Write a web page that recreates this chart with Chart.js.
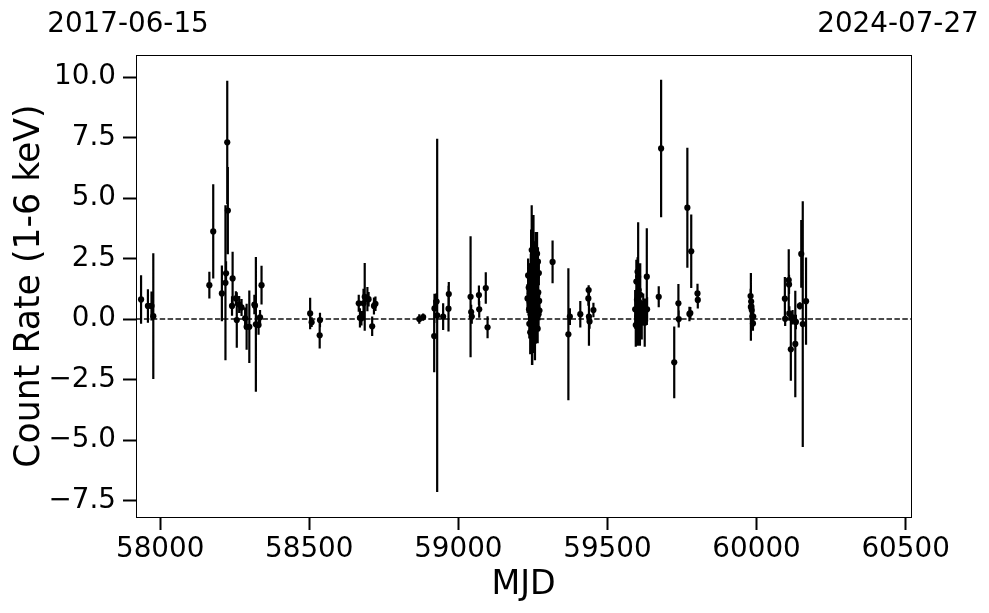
<!DOCTYPE html>
<html>
<head>
<meta charset="utf-8">
<script src="https://cdn.jsdelivr.net/npm/chart.js@4.4.1/dist/chart.umd.min.js"></script>
<style>
  html, body { margin: 0; padding: 0; background: #ffffff; }
  #wrap { width: 989px; height: 613px; position: relative; }
</style>
</head>
<body>
<div id="wrap"><canvas id="c" width="989" height="613"></canvas></div>
<script>
// ---- Data ----
const mjd = [
  57936, 57959, 57971, 57977,
  58165, 58178, 58207, 58219, 58221, 58225, 58227, 58241, 58243, 58254, 58257, 58265, 58273, 58285, 58290, 58299, 58316, 58318, 58321, 58330, 58335, 58340,
  58503, 58508, 58536, 58535,
  58666, 58670, 58675, 58682, 58686, 58695, 58699, 58711, 58717, 58722,
  58869, 58882,
  58920, 58919, 58927, 58929, 58949, 58968, 58967,
  59041, 59045, 59043, 59069, 59070, 59092, 59098,
  59232, 59234, 59236, 59237, 59238, 59239, 59240, 59241, 59242, 59243, 59244, 59245, 59246, 59247, 59248, 59249, 59250, 59251, 59252, 59253,
  59254, 59255, 59256, 59257, 59258, 59259, 59260, 59261, 59262, 59263, 59264, 59265, 59266, 59267, 59268, 59269, 59270, 59271, 59272,
  59316, 59369, 59374, 59409, 59437, 59436, 59438, 59440, 59453,
  59593, 59595, 59597, 59599, 59600, 59601, 59602, 59603, 59604, 59605, 59606, 59607, 59608, 59609, 59610, 59612, 59615, 59620, 59625, 59632, 59633,
  59672, 59680, 59724, 59738, 59739, 59768, 59775, 59778, 59781, 59802, 59803,
  59981, 59980, 59982, 59983, 59984, 59986, 59988, 59989,
  60095, 60096, 60108, 60109, 60110, 60115, 60121, 60130, 60132, 60145, 60150, 60155, 60166
];
const rate = [
  0.81, 0.54, 0.54, 0.12,
  1.40, 3.62, 1.06, 1.50, 1.89, 7.30, 4.48, 0.54, 1.68, 0.85, -0.04, 0.60, 0.48, 0.03, -0.32, -0.32, 0.60, 0.55, -0.22, -0.25, 0.07, 1.40,
  0.23, -0.13, -0.04, -0.67,
  0.65, 0.05, 0.03, 0.65, 0.92, 0.82, 0.82, -0.30, 0.54, 0.63,
  0.00, 0.08,
  0.44, -0.70, 0.72, 0.15, 0.10, 1.03, 0.43,
  0.92, 0.10, 0.29, 0.99, 0.40, 1.28, -0.34,
  0.85, 1.80, 1.30, 0.40, -0.20, 0.70, 1.05, -0.55, 0.20, 1.60, 2.20, 0.50, 2.85, 0.10, -0.70, 1.90, 0.90, 2.40, 3.10, -0.30,
  1.20, 0.60, 2.00, -0.90, 1.50, 0.30, 2.60, 0.00, 1.00, 1.75, 2.70, 0.45, -0.40, 2.37, 1.10, 0.20, 1.90, 0.75, 0.35,
  2.36, -0.63, 0.10, 0.20, 1.20, 0.85, 0.10, -0.10, 0.37,
  0.40, -0.25, 1.55, 0.80, 0.10, 1.95, -0.30, 1.75, 0.37, 1.20, -0.10, 0.60, 0.05, -0.20, 1.00, 0.30, -0.05, 0.45, -0.15, 1.75, 0.40,
  0.92, 7.05, -1.79, 0.65, 0.00, 4.60, 0.21, 0.25, 2.80, 1.06, 0.79,
  0.50, 0.95, 0.72, 0.51, 0.37, 0.10, -0.18, 0.10,
  0.84, 0.01, 1.61, 1.43, 0.23, -1.25, 0.07, -1.03, -0.12, 0.54, 2.69, -0.21, 0.74
];
const rateErr = [
  1.00, 0.69, 0.60, 2.60,
  0.55, 1.95, 1.15, 3.20, 0.50, 2.55, 1.80, 0.40, 1.10, 0.30, 1.15, 0.35, 0.35, 0.45, 0.95, 1.50, 0.40, 0.35, 2.78, 0.40, 0.30, 0.80,
  0.65, 0.20, 0.30, 0.55,
  0.35, 0.40, 0.30, 0.60, 1.40, 0.50, 0.30, 0.40, 0.35, 0.30,
  0.20, 0.15,
  0.60, 1.50, 0.35, 7.30, 0.55, 0.50, 0.95,
  2.50, 0.30, 0.30, 0.40, 0.35, 0.65, 0.45,
  0.60, 0.70, 0.90, 0.50, 0.60, 1.00, 0.80, 0.90, 1.20, 1.10, 1.50, 1.80, 1.85, 2.00, 1.20, 1.60, 1.40, 1.30, 1.20, 1.10,
  1.50, 1.30, 1.10, 0.80, 1.20, 0.90, 1.00, 1.00, 0.90, 0.80, 0.90, 0.70, 0.60, 0.60, 0.70, 0.60, 0.50, 0.40, 0.40,
  0.88, 2.73, 0.35, 0.55, 0.20, 0.30, 1.20, 0.30, 0.30,
  0.80, 0.90, 0.90, 1.50, 0.50, 0.60, 0.80, 2.25, 0.50, 1.00, 0.60, 0.70, 0.90, 0.90, 1.30, 0.50, 0.80, 0.60, 1.00, 2.00, 0.50,
  0.43, 2.84, 1.48, 0.80, 0.35, 2.48, 0.30, 0.25, 1.52, 0.40, 0.35,
  1.40, 0.30, 0.30, 0.30, 0.30, 0.30, 0.30, 0.25,
  0.90, 0.30, 1.27, 0.40, 0.30, 1.30, 0.30, 2.20, 0.30, 0.15, 1.40, 5.08, 1.80
];
const xTicks = [58000, 58500, 59000, 59500, 60000, 60500];
const yTicks = [-7.5, -5.0, -2.5, 0.0, 2.5, 5.0, 7.5, 10.0];
const xRange = [57919, 60518];
const yRange = [-8.18, 10.91];
const topLabels = ['2017-06-15', '2024-07-27'];
const xTitle = 'MJD';
const yTitle = 'Count Rate (1-6 keV)';

// ---- Derived datasets ----
const points = mjd.map((m, i) => ({ x: m, y: rate[i] }));
const errSegments = [];
mjd.forEach((m, i) => {
  errSegments.push({ x: m, y: rate[i] - rateErr[i] });
  errSegments.push({ x: m, y: rate[i] + rateErr[i] });
  errSegments.push({ x: m, y: null });
});
const zeroLine = [{ x: xRange[0], y: 0 }, { x: xRange[1], y: 0 }];

const FONT = "'DejaVu Sans', sans-serif";
const fmtMinus = v => (v < 0 ? '\u2212' : '') + Math.abs(v).toFixed(1);

const framePlugin = {
  id: 'frame',
  afterDatasetsDraw(chart) {
    const { ctx, chartArea: a } = chart;
    ctx.save();
    ctx.strokeStyle = '#000';
    ctx.lineWidth = 1;
    ctx.strokeRect(Math.round(a.left) + 0.5, Math.round(a.top) + 0.5, Math.round(a.right - a.left), Math.round(a.bottom - a.top));
    ctx.restore();
  },
  afterDraw(chart) {
    const { ctx, chartArea: a } = chart;
    ctx.save();
    ctx.fillStyle = '#000';
    ctx.font = '27.8px ' + FONT;
    ctx.textBaseline = 'alphabetic';
    ctx.textAlign = 'center';
    ctx.fillText(topLabels[0], a.left - 8, 32);
    ctx.fillText(topLabels[1], a.right - 13, 32);
    ctx.restore();
  }
};

new Chart(document.getElementById('c'), {
  type: 'scatter',
  data: {
    datasets: [
      {
        type: 'line',
        data: zeroLine,
        borderColor: '#111',
        borderWidth: 1.5,
        borderDash: [5.5, 2.4],
        pointRadius: 0,
        fill: false,
        order: 3
      },
      {
        type: 'line',
        data: errSegments,
        borderColor: '#000',
        borderWidth: 2.2,
        pointRadius: 0,
        spanGaps: false,
        fill: false,
        order: 2
      },
      {
        data: points,
        backgroundColor: '#000',
        borderColor: '#000',
        borderWidth: 0,
        pointRadius: 3.1,
        order: 1
      }
    ]
  },
  options: {
    responsive: false,
    animation: false,
    events: [],
    layout: { padding: { top: 55, right: 78, left: 0, bottom: 0 } },
    plugins: { legend: { display: false }, tooltip: { enabled: false } },
    scales: {
      x: {
        type: 'linear',
        min: xRange[0],
        max: xRange[1],
        afterBuildTicks: s => { s.ticks = xTicks.map(v => ({ value: v })); },
        afterFit: s => { s.height = 96; },
        grid: { display: true, drawOnChartArea: false, drawTicks: true, tickLength: 13, tickWidth: 2, tickColor: '#000' },
        border: { display: true, color: '#000', width: 1 },
        ticks: { color: '#000', font: { family: FONT, size: 27.8 }, padding: 3, maxRotation: 0, autoSkip: false, callback: v => String(v) },
        title: { display: true, text: xTitle, color: '#000', font: { family: FONT, size: 33.3 }, padding: { top: 0, bottom: 8 } }
      },
      y: {
        type: 'linear',
        min: yRange[0],
        max: yRange[1],
        afterBuildTicks: s => { s.ticks = yTicks.map(v => ({ value: v })); },
        afterFit: s => { s.width = 136; },
        grid: { display: true, drawOnChartArea: false, drawTicks: true, tickLength: 13, tickWidth: 2, tickColor: '#000' },
        border: { display: true, color: '#000', width: 1 },
        ticks: { color: '#000', font: { family: FONT, size: 27.8 }, padding: 7, autoSkip: false, callback: v => fmtMinus(v) },
        title: { display: true, text: yTitle, color: '#000', font: { family: FONT, size: 34.7 }, padding: { top: 9, bottom: 0 } }
      }
    }
  },
  plugins: [framePlugin]
});
</script>
</body>
</html>
